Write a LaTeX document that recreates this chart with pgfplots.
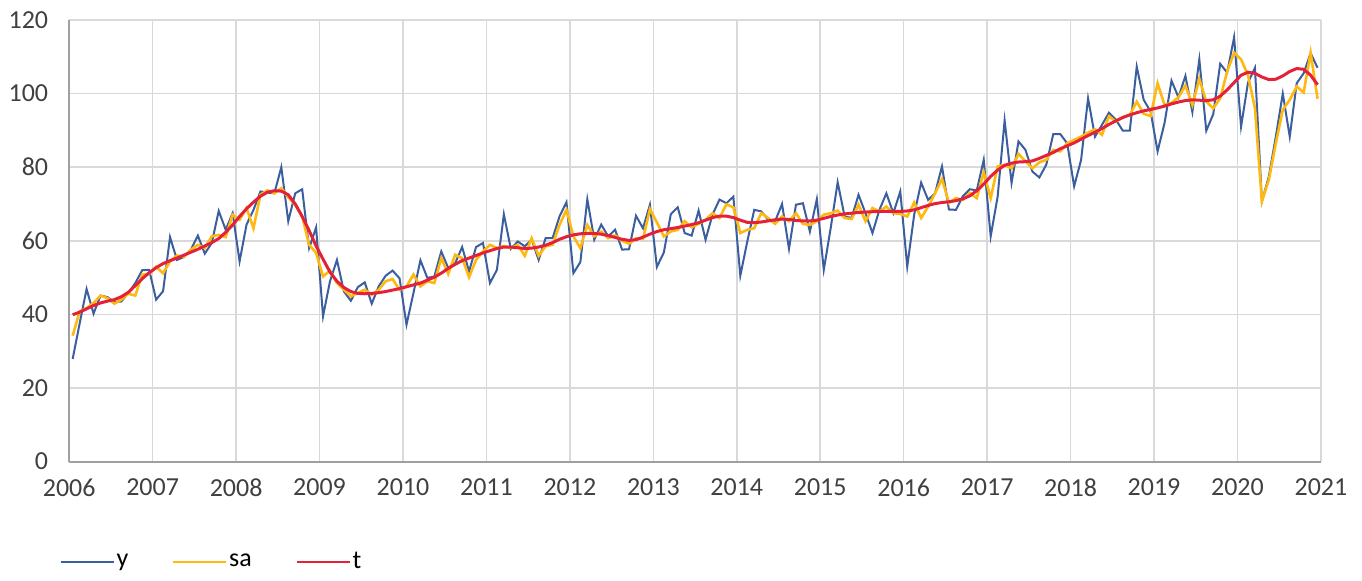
\documentclass[border=0pt]{standalone}
\usepackage{fontspec}
\setmainfont{Carlito}
\usepackage{pgfplots}
\usepackage{pgfplotstable}
\pgfplotsset{compat=1.18}
\definecolor{cy}{HTML}{3B5E9E}
\definecolor{csa}{HTML}{FFB80F}
\definecolor{ct}{HTML}{E3223A}
\definecolor{gridc}{HTML}{D9D9D9}
\definecolor{axc}{HTML}{A0A0A0}
\definecolor{txt}{HTML}{404040}

% monthly series, i = months since Jan 2006
\pgfplotstableread{
i y sa t
0 27.9 34.2 39.9
1 37.5 40.8 40.6
2 46.9 41.7 41.5
3 40.2 43.1 42.4
4 45.1 45.1 43.1
5 44.7 44.4 43.6
6 43.3 42.9 44.0
7 43.5 44.0 44.8
8 45.8 45.6 46.0
9 48.5 45.1 47.8
10 52.0 50.8 49.7
11 52.1 51.0 51.3
12 44.0 52.9 52.7
13 46.3 51.2 53.8
14 61.0 54.4 54.6
15 54.8 56.0 55.3
16 55.6 55.6 56.1
17 57.6 57.6 56.9
18 61.4 58.9 57.7
19 56.5 58.0 58.6
20 59.4 61.2 59.5
21 68.1 61.6 60.6
22 63.0 61.0 62.3
23 67.5 67.1 64.3
24 54.4 65.7 66.6
25 64.4 68.9 68.7
26 68.4 63.4 70.5
27 73.4 72.5 72.1
28 73.1 73.7 73.2
29 72.9 72.9 73.6
30 80.0 74.3 73.5
31 65.3 71.8 72.5
32 72.9 69.8 70.0
33 74.0 66.6 66.6
34 58.0 58.9 62.8
35 63.6 56.7 58.6
36 39.5 50.3 55.0
37 49.0 51.9 51.5
38 54.8 48.5 49.0
39 46.2 46.7 47.3
40 43.7 44.9 46.2
41 47.4 45.8 45.7
42 48.7 46.7 45.6
43 42.9 45.3 45.7
44 47.6 46.7 45.9
45 50.5 49.0 46.2
46 51.9 49.6 46.6
47 49.8 46.7 47.0
48 37.2 47.6 47.5
49 45.8 50.8 48.0
50 54.7 47.6 48.5
51 49.9 49.0 49.3
52 50.3 48.5 50.1
53 57.1 55.3 51.2
54 52.6 51.0 52.5
55 53.9 56.2 53.6
56 58.3 55.3 54.6
57 51.7 50.1 55.3
58 58.3 54.8 56.0
59 59.4 57.1 56.7
60 48.5 58.9 57.3
61 52.1 58.0 57.9
62 67.2 58.6 58.3
63 57.8 58.0 58.3
64 59.8 58.9 58.1
65 58.5 55.9 57.9
66 60.3 60.7 58.0
67 54.8 55.9 58.3
68 60.7 58.5 58.8
69 60.7 58.9 59.5
70 66.6 64.3 60.4
71 70.5 68.4 61.1
72 51.2 61.2 61.6
73 54.2 58.0 61.9
74 71.3 64.3 62.0
75 60.3 61.2 62.0
76 64.4 62.5 61.8
77 61.2 60.7 61.4
78 63.0 61.5 60.9
79 57.6 60.0 60.4
80 57.7 59.2 60.1
81 66.8 60.7 60.3
82 63.4 60.5 61.0
83 69.8 68.6 61.8
84 52.9 65.0 62.5
85 56.8 61.2 63.0
86 67.2 62.5 63.3
87 69.1 63.0 63.6
88 62.1 65.3 64.0
89 61.4 63.7 64.4
90 68.2 64.6 64.9
91 60.3 65.7 65.6
92 67.1 67.5 66.3
93 71.2 66.2 66.7
94 70.2 69.9 66.7
95 72.0 69.1 66.3
96 50.5 62.1 65.6
97 59.8 63.0 65.0
98 68.4 63.4 64.9
99 68.0 67.5 65.1
100 65.7 66.2 65.4
101 65.3 64.6 65.7
102 70.0 66.6 65.9
103 57.8 65.3 65.8
104 69.8 67.5 65.5
105 70.2 64.6 65.4
106 62.5 64.3 65.4
107 71.3 65.3 65.6
108 52.1 67.1 66.1
109 63.5 67.5 66.6
110 75.9 68.2 67.0
111 66.6 66.2 67.3
112 66.2 65.9 67.5
113 72.5 69.8 67.7
114 67.5 65.3 67.8
115 62.1 68.9 67.9
116 68.4 68.0 68.0
117 72.9 69.3 68.0
118 67.5 67.5 68.0
119 73.4 67.3 68.0
120 53.0 66.6 68.1
121 67.1 70.4 68.4
122 75.8 66.2 69.0
123 71.1 69.3 69.6
124 72.9 72.9 70.1
125 80.2 76.8 70.4
126 68.5 70.3 70.6
127 68.4 71.6 70.9
128 72.1 71.1 71.4
129 74.0 73.0 72.2
130 73.7 71.6 73.6
131 82.0 78.6 75.4
132 61.2 71.6 77.5
133 72.0 80.2 79.2
134 92.7 80.6 80.5
135 75.7 79.7 81.1
136 87.0 83.6 81.4
137 84.7 81.6 81.5
138 78.8 79.7 81.7
139 77.2 81.3 82.4
140 80.7 82.0 83.2
141 89.0 84.7 84.0
142 89.0 84.3 85.0
143 86.5 86.5 85.8
144 74.8 87.4 86.6
145 82.0 88.3 87.6
146 98.7 89.4 88.6
147 88.3 90.3 89.5
148 91.5 88.8 90.5
149 94.8 93.8 91.6
150 92.9 92.4 92.6
151 89.9 93.6 93.5
152 89.9 94.2 94.2
153 107.3 97.8 94.8
154 98.3 94.5 95.3
155 95.1 93.9 95.7
156 84.3 102.8 96.1
157 92.0 96.9 96.6
158 103.5 97.5 97.2
159 99.0 99.0 97.7
160 104.8 102.2 98.1
161 95.0 96.9 98.3
162 109.3 104.0 98.2
163 89.9 97.8 98.1
164 94.4 96.0 98.3
165 108.1 98.7 99.3
166 105.7 106.0 101.0
167 115.3 111.1 103.0
168 91.0 109.3 105.0
169 103.0 105.0 105.8
170 107.0 96.0 105.5
171 70.7 70.7 104.5
172 77.5 76.6 103.8
173 88.3 86.5 103.9
174 100.0 95.6 104.8
175 88.3 98.3 106.0
176 102.8 101.9 106.8
177 105.5 100.3 106.6
178 111.0 111.1 105.0
179 107.0 98.6 102.4
}\series

\begin{document}
\fontsize{13}{15}\selectfont
\begin{tikzpicture}
\begin{axis}[
  scale only axis,width=626.5pt,height=221pt,
  xmin=2006,xmax=2021,ymin=0,ymax=120,
  xtick={2006,...,2021},ytick={0,20,...,120},
  xticklabel style={yshift=-4pt,/pgf/number format/.cd,set thousands separator={}},
  /pgf/number format/assume math mode=true,
  ticklabel style={text=txt},
  yticklabel style={xshift=-6pt},
  grid=major,major grid style={gridc,line width=0.8pt},
  axis x line*=bottom,axis y line*=left,
  axis line style={axc,line width=1pt,-},
  major tick length=0pt,
  legend columns=3,
  legend cell align=left,
  legend style={draw=none,fill=none,at={(0,0)},anchor=west,xshift=-8pt,yshift=-50.5pt,
    nodes={inner xsep=1pt},
    /tikz/every even column/.append style={column sep=21pt}},
  legend image code/.code={\draw[#1,line width=1pt] (0pt,0pt) -- (26.5pt,0pt);},
]
\addplot[cy,line width=1pt] table[x expr=2006+(\thisrow{i}+0.5)/12,y=y] {\series};
\addlegendentry{y}
\addplot[csa,line width=1.3pt] table[x expr=2006+(\thisrow{i}+0.5)/12,y=sa] {\series};
\addlegendentry{sa}
\addplot[ct,line width=1.5pt] table[x expr=2006+(\thisrow{i}+0.5)/12,y=t] {\series};
\addlegendentry{t}
\end{axis}
\path ([xshift=-34pt,yshift=-54pt]current axis.south west) rectangle ([xshift=20.5pt,yshift=10pt]current axis.north east);
\end{tikzpicture}
\end{document}
